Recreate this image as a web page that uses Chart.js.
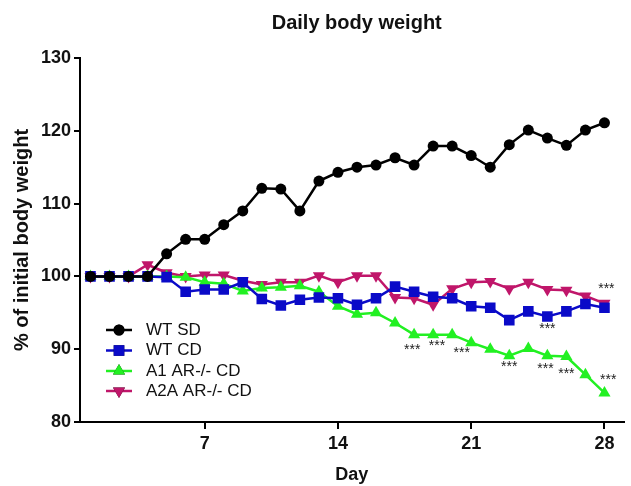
<!DOCTYPE html>
<html>
<head>
<meta charset="utf-8">
<script src="https://cdn.jsdelivr.net/npm/chart.js@4.4.0/dist/chart.umd.min.js"></script>
<style>
  html, body { margin: 0; padding: 0; background: #fff; }
  #wrap { width: 631px; height: 486px; }
</style>
</head>
<body>
<div id="wrap"><canvas id="chart"></canvas></div>
<script>
const days = [1,2,3,4,5,6,7,8,9,10,11,12,13,14,15,16,17,18,19,20,21,22,23,24,25,26,27,28];
const wtSD = [100,100,100,100,103.1,105.1,105.1,107.1,109.0,112.1,112.0,109.0,113.1,114.3,115.0,115.3,116.3,115.3,117.9,117.9,116.6,115.0,118.1,120.1,119.0,118.0,120.1,121.1];
const wtCD = [100,100,100,100,99.9,97.9,98.2,98.2,99.2,96.9,96.0,96.8,97.1,97.0,96.1,97.0,98.6,97.9,97.2,97.0,95.9,95.7,94.0,95.2,94.5,95.2,96.2,95.7];
const a1CD = [100,100,100,100,100,99.9,99.2,99.0,98.0,98.4,98.5,98.7,97.9,95.9,94.8,95.0,93.6,92.0,92.0,92.0,90.9,90.0,89.1,90.1,89.1,89.0,86.5,84.0];
const a2aCD = [100,100,100,101.6,100.5,100.0,100.2,100.2,99.4,98.9,99.2,99.2,100.1,99.2,100.1,100.1,97.1,97.0,96.1,98.3,99.2,99.3,98.3,99.2,98.2,98.1,97.3,96.3];
const seriesNames = ['WT SD', 'WT CD', 'A1 AR-/- CD', 'A2A AR-/- CD'];
const xTicks = [7, 14, 21, 28];
const yTicks = [80, 90, 100, 110, 120, 130];
// significance marks (day, value)
const starDays = [17.9, 19.2, 20.5, 23, 24.9, 26, 28.2, 25, 28.1];
const starValues = [90.3, 90.8, 89.9, 87.9, 87.7, 87.0, 86.2, 93.1, 98.7];

const FONT = "'Liberation Sans', Arial, sans-serif";

function pts(vals) {
  return days.map((d, i) => ({ x: d, y: vals[i] }));
}

// title centred over the plot area
const plotTitle = {
  id: 'plotTitle',
  afterDraw(chart) {
    const ctx = chart.ctx, a = chart.chartArea;
    ctx.save();
    ctx.fillStyle = '#111';
    ctx.font = 'bold 20px ' + FONT;
    ctx.textAlign = 'center';
    ctx.textBaseline = 'alphabetic';
    ctx.fillText('Daily body weight', (a.left + a.right) / 2 + 5, 29);
    ctx.restore();
  }
};

// legend drawn inside plot area, bottom left
const insideLegend = {
  id: 'insideLegend',
  afterDraw(chart) {
    const ctx = chart.ctx;
    const rows = [330, 350.5, 371, 391];
    ctx.save();
    chart.data.datasets.forEach((ds, i) => {
      const y = rows[i];
      ctx.strokeStyle = ds.borderColor;
      ctx.lineWidth = ds.borderWidth;
      ctx.beginPath();
      ctx.moveTo(106, y);
      ctx.lineTo(132, y);
      ctx.stroke();
      Chart.helpers.drawPoint(ctx, {
        pointStyle: ds.pointStyle,
        radius: ds.pointRadius,
        rotation: ds.pointRotation || 0,
        borderWidth: 0
      }, 119, y);
      ctx.fillStyle = ds.backgroundColor;
      ctx.fill();
      ctx.fillStyle = '#111';
      ctx.font = '17px ' + FONT;
      ctx.textBaseline = 'middle';
      ctx.textAlign = 'left';
      ctx.fillText(ds.label, 146, y);
    });
    ctx.restore();
  }
};

const stars = {
  id: 'stars',
  afterDatasetsDraw(chart) {
    const ctx = chart.ctx;
    const xs = chart.scales.x, ys = chart.scales.y;
    ctx.save();
    ctx.fillStyle = '#222';
    ctx.font = '14px ' + FONT;
    ctx.textAlign = 'center';
    ctx.textBaseline = 'middle';
    starDays.forEach((d, i) => {
      ctx.fillText('***', xs.getPixelForValue(d), ys.getPixelForValue(starValues[i]) + 3);
    });
    ctx.restore();
  }
};

const colors = ['#000000', '#0a0ac8', '#22f022', '#c0166a'];
const styles = ['circle', 'rect', 'triangle', 'triangle'];
const radii = [5.5, 7.5, 7, 7];
const rotations = [0, 0, 0, 180];
const allSeries = [wtSD, wtCD, a1CD, a2aCD];

new Chart(document.getElementById('chart'), {
  type: 'line',
  data: {
    datasets: allSeries.map((vals, i) => ({
      label: seriesNames[i],
      data: pts(vals),
      borderColor: colors[i],
      backgroundColor: colors[i],
      borderWidth: 2.5,
      pointStyle: styles[i],
      pointRadius: radii[i],
      pointRotation: rotations[i],
      pointBorderWidth: 0,
      pointBackgroundColor: colors[i],
      tension: 0
    }))
  },
  options: {
    responsive: true,
    maintainAspectRatio: false,
    animation: false,
    layout: { padding: { left: 0, right: 6, top: 58, bottom: 0 } },
    plugins: {
      legend: { display: false },
      tooltip: { enabled: false },
      title: { display: false }
    },
    scales: {
      x: {
        type: 'linear',
        min: 0.45,
        max: 29,
        afterBuildTicks(scale) { scale.ticks = xTicks.map(v => ({ value: v })); },
        afterFit(scale) { scale.height = 64; },
        grid: { drawOnChartArea: false, drawTicks: true, tickLength: 7, color: '#000', lineWidth: 2 },
        border: { display: true, color: '#000', width: 2 },
        ticks: { color: '#111', padding: 4, font: { family: FONT, size: 18, weight: 'bold' } },
        title: {
          display: true, text: 'Day', color: '#111',
          font: { family: FONT, size: 18, weight: 'bold' },
          padding: { top: 0, bottom: 0 }
        }
      },
      y: {
        min: 80,
        max: 130,
        afterBuildTicks(scale) { scale.ticks = yTicks.map(v => ({ value: v })); },
        afterFit(scale) { scale.width = 80; },
        grid: { drawOnChartArea: false, drawTicks: true, tickLength: 6, color: '#000', lineWidth: 2 },
        border: { display: true, color: '#000', width: 2 },
        ticks: { color: '#111', padding: 3, font: { family: FONT, size: 18, weight: 'bold' } },
        title: {
          display: true, text: '% of initial body weight', color: '#111',
          font: { family: FONT, size: 20, weight: 'bold' },
          padding: { top: 10, bottom: 0 }
        }
      }
    }
  },
  plugins: [insideLegend, stars, plotTitle]
});
</script>
</body>
</html>
